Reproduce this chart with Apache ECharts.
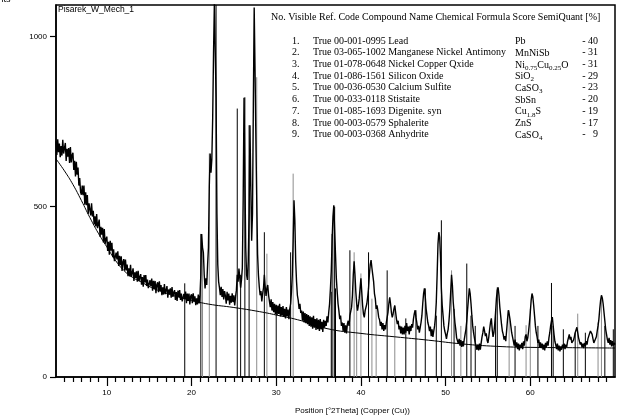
<!DOCTYPE html>
<html>
<head>
<meta charset="utf-8">
<script src="https://cdn.jsdelivr.net/npm/echarts@6/dist/echarts.min.js"></script>
<style>
  html, body { margin: 0; padding: 0; background: #fff; }
  #chart { width: 622px; height: 416px; }
</style>
</head>
<body>
<div id="chart"></div>
<script>
// measured scan, 4 - 70 deg 2Theta, one value every 0.1 deg
var scanStart = 4
var scanStep = 0.1
var counts = [
  692, 652, 698, 660, 685, 645, 678, 650, 696, 656,   // 4
  653, 687, 634, 670, 647, 672, 628, 675, 630, 651,   // 5
  658, 608, 635, 589, 632, 594, 615, 562, 584, 543,   // 6
  535, 562, 534, 562, 506, 542, 504, 534, 479, 510,   // 7
  515, 474, 510, 471, 488, 448, 472, 442, 478, 437,   // 8
  434, 462, 412, 441, 418, 438, 395, 434, 391, 405,   // 9
  412, 370, 397, 359, 400, 371, 394, 352, 375, 340,   // 10
  341, 365, 345, 369, 326, 356, 328, 354, 311, 338,   // 11
  346, 312, 345, 313, 330, 296, 319, 295, 329, 294,   // 12
  295, 319, 282, 307, 291, 310, 280, 312, 281, 294,   // 13
  302, 271, 293, 265, 299, 278, 299, 267, 286, 261,   // 14
  261, 284, 267, 289, 253, 282, 258, 282, 246, 271,   // 15
  278, 249, 281, 253, 270, 240, 263, 242, 273, 243,   // 16
  244, 267, 233, 257, 243, 260, 233, 264, 235, 248,   // 17
  255, 226, 249, 223, 254, 235, 255, 226, 245, 222,   // 18
  222, 244, 229, 251, 217, 245, 223, 245, 213, 237,   // 19
  243, 217, 246, 221, 237, 211, 231, 213, 242, 216,   // 20
  240, 300, 420, 380, 365, 300, 260, 290, 270, 330,   // 21
  380, 560, 656, 600, 640, 760, 950, 1100, 1100, 820, // 22
  480, 330, 280, 262, 240, 265, 235, 258, 228, 252,   // 23
  238, 215, 250, 225, 245, 212, 238, 218, 246, 220,   // 24
  240, 210, 236, 255, 300, 280, 318, 290, 262, 285,   // 25
  320, 520, 820, 600, 380, 300, 285, 340, 480, 739,   // 26
  560, 400, 480, 800, 1085, 900, 700, 520, 360, 300,  // 27
  265, 240, 252, 222, 245, 262, 300, 265, 238, 260,   // 28
  270, 240, 222, 205, 228, 195, 220, 190, 215, 185,   // 29
  212, 182, 210, 185, 215, 178, 205, 180, 208, 176,   // 30
  200, 172, 205, 178, 198, 170, 200, 215, 250, 300,   // 31
  400, 519, 460, 340, 280, 240, 225, 200, 215, 188,   // 32
  195, 165, 192, 160, 188, 158, 185, 155, 182, 150,   // 33
  178, 148, 175, 142, 180, 145, 170, 138, 172, 140,   // 34
  168, 135, 170, 140, 162, 132, 168, 145, 165, 150,   // 35
  178, 160, 190, 215, 260, 310, 400, 470, 504, 430,   // 36
  360, 290, 250, 215, 195, 170, 180, 150, 160, 135,   // 37
  158, 130, 152, 128, 155, 165, 150, 180, 175, 205,   // 38
  240, 300, 340, 300, 250, 215, 195, 210, 230, 260,   // 39
  290, 250, 210, 185, 175, 195, 190, 215, 235, 260,   // 40
  300, 330, 343, 320, 300, 280, 245, 230, 200, 210,   // 41
  195, 175, 168, 150, 162, 140, 158, 135, 152, 140,   // 42
  160, 175, 190, 215, 234, 215, 190, 175, 185, 200,   // 43
  210, 190, 170, 155, 165, 140, 150, 128, 148, 125,   // 44
  145, 125, 150, 130, 158, 135, 148, 125, 150, 135,   // 45
  155, 145, 170, 185, 196, 175, 160, 140, 150, 130,   // 46
  145, 160, 180, 215, 245, 260, 235, 200, 180, 160,   // 47
  150, 135, 148, 120, 140, 118, 135, 150, 175, 220,   // 48
  300, 390, 425, 410, 350, 260, 210, 180, 150, 135,   // 49
  125, 112, 128, 140, 165, 200, 250, 300, 270, 220,   // 50
  190, 160, 140, 115, 120, 98, 112, 92, 108, 88,      // 51
  105, 90, 110, 125, 140, 165, 200, 230, 260, 245,    // 52
  215, 180, 150, 130, 115, 100, 92, 80, 95, 78,       // 53
  98, 80, 100, 118, 130, 148, 135, 120, 128, 108,     // 54
  100, 118, 140, 160, 172, 140, 118, 130, 155, 190,   // 55
  230, 255, 263, 240, 205, 180, 155, 135, 125, 110,   // 56
  120, 105, 135, 165, 196, 185, 170, 150, 130, 118,   // 57
  105, 92, 110, 88, 102, 82, 98, 78, 95, 85,          // 58
  100, 82, 105, 92, 118, 125, 105, 115, 135, 160,     // 59
  190, 225, 245, 235, 210, 180, 150, 130, 118, 100,   // 60
  110, 88, 102, 85, 98, 80, 95, 78, 100, 88,          // 61
  105, 92, 115, 130, 150, 165, 176, 150, 125, 105,    // 62
  95, 82, 98, 78, 92, 75, 90, 80, 95, 85,             // 63
  98, 82, 95, 88, 105, 115, 125, 110, 118, 100,       // 64
  95, 108, 118, 130, 138, 146, 130, 115, 105, 95,     // 65
  102, 88, 98, 85, 100, 90, 105, 95, 112, 120,        // 66
  128, 135, 137, 125, 112, 100, 95, 105, 118, 135,    // 67
  150, 170, 200, 225, 240, 232, 215, 190, 165, 140,   // 68
  125, 110, 100, 115, 95, 108, 90, 105, 92, 100,      // 69
  95                                                  // 70
]

// fitted background
var bgPos    = [4, 5, 6, 7, 8, 9, 10, 11, 12, 13, 14, 15, 16, 17, 18, 19, 20, 22, 25, 28, 30, 33, 36, 40, 44, 48, 52, 56, 60, 65, 70]
var bgCounts = [640, 605, 565, 518, 468, 422, 382, 343, 313, 293, 280, 266, 255, 246, 238, 231, 225, 214, 204, 192, 182, 165, 142, 128, 118, 108, 97, 90, 87, 86, 85]

// reference pattern sticks
var stickBlackPos    = [19.2, 21.1, 22.9, 25.4, 25.8, 26.3, 26.8, 28.6, 30.0, 31.7, 36.5, 36.6, 36.9, 37.0, 38.7, 40.9, 43.1, 45.3, 46.5, 47.6, 48.9, 49.5, 51.0, 52.5, 53.0, 53.5, 55.9, 56.1, 58.2, 60.9, 62.5, 62.7, 63.9, 65.3, 66.5, 68.8, 69.8]
var stickBlackHeight = [275, 420, 1100, 788, 300, 821, 739, 425, 200, 366, 250, 420, 500, 260, 372, 366, 313, 172, 196, 260, 180, 460, 200, 333, 180, 150, 200, 263, 150, 150, 276, 150, 140, 130, 130, 150, 140]
var stickGrayPos     = [21.3, 22.1, 27.7, 28.9, 32.0, 36.8, 39.2, 39.5, 40.0, 41.3, 41.8, 44.0, 50.7, 51.8, 57.5, 59.5, 60.0, 65.6, 68.0, 68.4]
var stickGrayHeight  = [380, 656, 880, 362, 597, 480, 366, 230, 304, 230, 210, 210, 313, 150, 196, 152, 200, 186, 160, 240]

// phase list
var phaseNo      = ['1.', '2.', '3.', '4.', '5.', '6.', '7.', '8.', '9.']
var phaseName    = ['True 00-001-0995 Lead', 'True 03-065-1002 Manganese Nickel Antimony', 'True 01-078-0648 Nickel Copper Qxide',
                    'True 01-086-1561 Silicon Oxide', 'True 00-036-0530 Calcium Sulfite', 'True 00-033-0118 Stistaite',
                    'True 01-085-1693 Digenite. syn', 'True 00-003-0579 Sphalerite', 'True 00-003-0368 Anhydrite']
var phaseFormula = ['Pb', 'MnNiSb', 'Ni{s|0.75}Cu{s|0.25}O', 'SiO{s|2}', 'CaSO{s|3}', 'SbSn', 'Cu{s|1.8}S', 'ZnS', 'CaSO{s|4}']
var phaseScore   = ['- 40', '- 31', '- 31', '- 29', '- 23', '- 20', '- 19', '- 17', '-   9']

var xLabels = [10, 20, 30, 40, 50, 60]
var xMinor = [5, 6, 7, 8, 9, 11, 12, 13, 14, 15, 16, 17, 18, 19, 21, 22, 23, 24, 25, 26, 27, 28, 29, 31, 32, 33, 34, 35, 36, 37, 38, 39,
              41, 42, 43, 44, 45, 46, 47, 48, 49, 51, 52, 53, 54, 55, 56, 57, 58, 59, 61, 62, 63, 64, 65, 66, 67, 68, 69]
var yLabels = [0, 500, 1000]

var scan = counts.map(function (c, i) { return [+(scanStart + i * scanStep).toFixed(1), c] })
var bg = bgPos.map(function (p, i) { return [p, bgCounts[i]] })
var sticksBlack = stickBlackPos.map(function (p, i) { return [p, stickBlackHeight[i]] })
var sticksGray = stickGrayPos.map(function (p, i) { return [p, stickGrayHeight[i]] })

function stickItem(params, api) {
  var top = api.coord([api.value(0), api.value(1)])
  var base = api.coord([api.value(0), 0])
  return {
    type: 'line',
    shape: { x1: top[0], y1: base[1], x2: top[0], y2: top[1] },
    style: { stroke: api.visual('color'), lineWidth: 1 }
  }
}

var serif = '"Liberation Serif", "Times New Roman", serif'
var sans = '"Liberation Sans", Arial, sans-serif'

var tableTexts = []
tableTexts.push({
  type: 'text', left: 271, top: 12,
  style: { text: 'No. Visible Ref. Code Compound Name Chemical Formula Score SemiQuant [%]', font: '10px ' + serif, fill: '#000' }
})
for (var i = 0; i < phaseNo.length; i++) {
  var y = 36 + i * 11.7
  tableTexts.push({ type: 'text', left: 292, top: y, style: { text: phaseNo[i], font: '10px ' + serif, fill: '#000' } })
  tableTexts.push({ type: 'text', left: 313, top: y, style: { text: phaseName[i], font: '10px ' + serif, fill: '#000' } })
  tableTexts.push({
    type: 'text', left: 515, top: y - 1,
    style: {
      text: phaseFormula[i], font: '10px ' + serif, fill: '#000', lineHeight: 13,
      rich: { s: { fontSize: 7, fontFamily: serif, verticalAlign: 'bottom', lineHeight: 8, fill: '#000' } }
    }
  })
  tableTexts.push({ type: 'text', right: 24, top: y, style: { text: phaseScore[i], font: '10px ' + serif, fill: '#000', align: 'right' } })
}

var chart = echarts.init(document.getElementById('chart'))
chart.setOption({
  animation: false,
  backgroundColor: '#fff',
  grid: { left: 56, right: 7, top: 5, bottom: 39, show: true, borderColor: '#000', borderWidth: 1.5, backgroundColor: 'transparent' },
  xAxis: [{
    type: 'value', min: 4, max: 70,
    axisLine: { lineStyle: { color: '#000', width: 1.5 } },
    axisTick: { customValues: xLabels, length: 9, lineStyle: { color: '#000', width: 1.2 } },
    axisLabel: { customValues: xLabels, margin: 12, color: '#000', fontSize: 8, fontFamily: sans },
    splitLine: { show: false }
  }, {
    type: 'value', min: 4, max: 70, position: 'bottom',
    axisLine: { show: false },
    axisTick: { customValues: xMinor, length: 5, lineStyle: { color: '#000', width: 1.2 } },
    axisLabel: { show: false },
    splitLine: { show: false }
  }],
  yAxis: {
    type: 'value', min: 0, max: 1092,
    axisLine: { show: true, lineStyle: { color: '#000', width: 1.5 } },
    axisTick: { show: true, customValues: yLabels, length: 6, lineStyle: { color: '#000', width: 1.2 } },
    axisLabel: {
      customValues: yLabels, margin: 9, color: '#000', fontSize: 8, fontFamily: sans,
      formatter: function (v) { return String(v) }
    },
    splitLine: { show: false }
  },
  graphic: [
    { type: 'text', left: -18, top: -5, style: { text: 'Counts', font: '9px ' + sans, fill: '#000' } },
    { type: 'text', left: 58, top: 5, style: { text: 'Pisarek_W_Mech_1', font: '8.5px ' + sans, fill: '#000' } },
    { type: 'text', left: 295, top: 407, style: { text: 'Position [°2Theta] (Copper (Cu))', font: '8px ' + sans, fill: '#000' } }
  ].concat(tableTexts),
  series: [
    { type: 'custom', name: 'gray sticks', data: sticksGray, renderItem: stickItem, clip: true, itemStyle: { color: '#8c8c8c' }, z: 2 },
    { type: 'custom', name: 'sticks', data: sticksBlack, renderItem: stickItem, clip: true, itemStyle: { color: '#000' }, z: 3 },
    { type: 'line', name: 'scan', data: scan, showSymbol: false, clip: true, lineStyle: { color: '#000', width: 1.4 }, z: 4 },
    { type: 'line', name: 'background', data: bg, smooth: true, showSymbol: false, lineStyle: { color: '#000', width: 1 }, z: 5 }
  ]
})
</script>
</body>
</html>
